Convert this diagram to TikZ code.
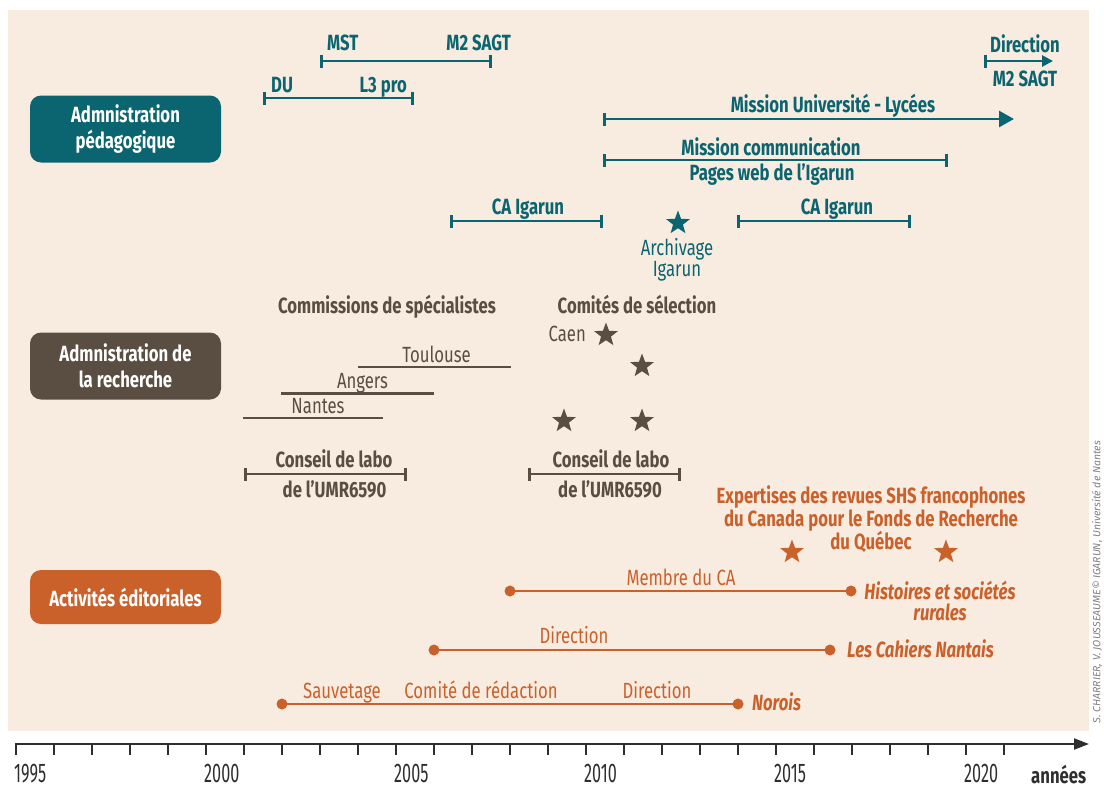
\documentclass[tikz,border=0pt]{standalone}
\usepackage{fontspec}
\setmainfont{Fira Sans}[FakeStretch=0.76]
\newfontfamily\creditfont{Fira Sans}
\newfontfamily\yearfont{Fira Sans}[FakeStretch=0.6]
\usetikzlibrary{arrows.meta}
\usetikzlibrary{shapes.geometric}
\definecolor{beige}{HTML}{F8EBE0}
\definecolor{pedteal}{HTML}{0B6570}
\definecolor{rechbrown}{HTML}{5A4E42}
\definecolor{editorange}{HTML}{CA612B}
\definecolor{axisgray}{HTML}{2E2E2E}

\begin{document}
\begin{tikzpicture}[x=1pt,y=-1pt,
  catbox/.style={rounded corners=11pt,minimum width=191pt,minimum height=67pt,inner sep=0pt,text=white,align=center,font=\bfseries\fontsize{22}{26}\selectfont},
  boldtxt/.style={inner sep=0pt,anchor=base,font=\bfseries\fontsize{22}{24}\selectfont},
  thintxt/.style={inner sep=0pt,anchor=base,font=\fontsize{22}{24}\selectfont},
  titletxt/.style={inner sep=0pt,anchor=base,font=\bfseries\itshape\fontsize{22}{24}\selectfont},
  period/.style={line width=2.8pt,{Bar[width=13pt]}-{Bar[width=13pt]}},
  seat/.style={line width=2.2pt},
  prize/.style={star,star points=5,star point ratio=2.4,minimum size=25pt,inner sep=0pt}]
  \useasboundingbox (0,0) rectangle (1104,790);
  \fill[beige] (8,10) rectangle (1089,731);

  %coordinates
  \coordinate (mst0) at (320,61);
  \coordinate (mst1) at (492,61);
  \coordinate (du0) at (263,98);
  \coordinate (du1) at (414,98);
  \coordinate (dir0) at (984,61);
  \coordinate (dir1) at (1053,61);
  \coordinate (mul0) at (603,119);
  \coordinate (mul1) at (1014,119);
  \coordinate (com0) at (603,160);
  \coordinate (com1) at (948,160);
  \coordinate (caA0) at (450,221);
  \coordinate (caA1) at (603,221);
  \coordinate (caB0) at (737,221);
  \coordinate (caB1) at (911,221);
  \coordinate (tls0) at (358,367);
  \coordinate (tls1) at (511,367);
  \coordinate (ang0) at (281,393.5);
  \coordinate (ang1) at (434,393.5);
  \coordinate (nts0) at (243,418);
  \coordinate (nts1) at (383,418);
  \coordinate (clA0) at (244,474);
  \coordinate (clA1) at (407,474);
  \coordinate (clB0) at (528,474);
  \coordinate (clB1) at (681,474);
  \coordinate (hsr0) at (510,591);
  \coordinate (hsr1) at (851,591);
  \coordinate (can0) at (434,650);
  \coordinate (can1) at (830,650);
  \coordinate (nor0) at (282,704);
  \coordinate (nor1) at (738,704);
  \coordinate (axA) at (15,744);
  \coordinate (axB) at (1089,744);

  %categories
  \node[catbox,fill=pedteal] (ped) at (125.5,129) {Admnistration\\pédagogique};
  \node[catbox,fill=rechbrown] (rech) at (125.5,366) {Admnistration de\\la recherche};
  \node[catbox,fill=editorange,minimum height=54pt] (edit) at (125.5,597) {Activités éditoriales};

  %teaching
  \draw[period,pedteal] (mst0) -- (mst1);
  \draw[period,pedteal] (du0) -- (du1);
  \draw[line width=2.8pt,pedteal,{Bar[width=13pt]}-{Triangle[length=11pt,width=11pt]}] (dir0) -- (dir1);
  \draw[line width=2.8pt,pedteal,{Bar[width=13pt]}-{Triangle[length=15pt,width=16pt]}] (mul0) -- (mul1);
  \draw[period,pedteal] (com0) -- (com1);
  \draw[period,pedteal] (caA0) -- (caA1);
  \draw[period,pedteal] (caB0) -- (caB1);
  \node[boldtxt,anchor=base west,text=pedteal] (mst) at (327,50) {MST};
  \node[boldtxt,anchor=base east,text=pedteal] (msagt) at (511,50) {M2 SAGT};
  \node[boldtxt,anchor=base west,text=pedteal] (du) at (271,92) {DU};
  \node[boldtxt,anchor=base east,text=pedteal] (lpro) at (407,92) {L3 pro};
  \node[boldtxt,text=pedteal] (dirtxt) at (1025,52) {Direction};
  \node[boldtxt,text=pedteal] (dirsagt) at (1025,86) {M2 SAGT};
  \node[boldtxt,text=pedteal] (multxt) at (833,112) {Mission Université - Lycées};
  \node[boldtxt,text=pedteal] (comtxt) at (771,155) {Mission communication};
  \node[boldtxt,text=pedteal] (webtxt) at (772,180) {Pages web de l’Igarun};
  \node[boldtxt,text=pedteal] (caAtxt) at (528,214) {CA Igarun};
  \node[boldtxt,text=pedteal] (caBtxt) at (837,214) {CA Igarun};
  \node[prize,fill=pedteal] (archstar) at (678,223) {};
  \node[thintxt,text=pedteal] (archA) at (677,255) {Archivage};
  \node[thintxt,text=pedteal] (archB) at (677,276) {Igarun};

  %research
  \node[boldtxt,text=rechbrown] (cspe) at (387,313) {Commissions de spécialistes};
  \node[boldtxt,text=rechbrown] (csel) at (637,313) {Comités de sélection};
  \node[thintxt,anchor=base east,text=rechbrown] (caen) at (586,341) {Caen};
  \node[prize,fill=rechbrown] (selA) at (606,335) {};
  \node[prize,fill=rechbrown] (selB) at (642,366) {};
  \node[prize,fill=rechbrown] (selC) at (564,421) {};
  \node[prize,fill=rechbrown] (selD) at (642,421) {};
  \draw[seat,rechbrown] (tls0) -- (tls1);
  \draw[seat,rechbrown] (ang0) -- (ang1);
  \draw[seat,rechbrown] (nts0) -- (nts1);
  \node[thintxt,text=rechbrown] (tls) at (436.5,362) {Toulouse};
  \node[thintxt,text=rechbrown] (ang) at (362.5,388.5) {Angers};
  \node[thintxt,text=rechbrown] (nts) at (318,413) {Nantes};
  \draw[period,rechbrown] (clA0) -- (clA1);
  \draw[period,rechbrown] (clB0) -- (clB1);
  \node[boldtxt,text=rechbrown] (clA) at (334,467.5) {Conseil de labo};
  \node[boldtxt,text=rechbrown] (umrA) at (334.5,497) {de l’UMR6590};
  \node[boldtxt,text=rechbrown] (clB) at (611,467.5) {Conseil de labo};
  \node[boldtxt,text=rechbrown] (umrB) at (610,497) {de l’UMR6590};

  %editorial
  \node[boldtxt,text=editorange] (expA) at (871,503) {Expertises des revues SHS francophones};
  \node[boldtxt,text=editorange] (expB) at (871,526) {du Canada pour le Fonds de Recherche};
  \node[boldtxt,text=editorange] (expC) at (871,549) {du Québec};
  \node[prize,fill=editorange] (expstarA) at (792,552) {};
  \node[prize,fill=editorange] (expstarB) at (946,552) {};
  \draw[seat,line width=2.6pt,editorange] (hsr0) -- (hsr1);
  \draw[seat,line width=2.6pt,editorange] (can0) -- (can1);
  \draw[seat,line width=2.6pt,editorange] (nor0) -- (nor1);
  \foreach \c in {hsr0,hsr1,can0,can1,nor0,nor1}
    \fill[editorange] (\c) circle (5.5pt);
  \node[thintxt,text=editorange] (membre) at (681,585) {Membre du CA};
  \node[titletxt,text=editorange] (hsrA) at (940,599) {Histoires et sociétés};
  \node[titletxt,text=editorange] (hsrB) at (940,620) {rurales};
  \node[thintxt,text=editorange] (candir) at (574,643) {Direction};
  \node[titletxt,anchor=base west,text=editorange] (cahiers) at (847,657) {Les Cahiers Nantais};
  \node[thintxt,text=editorange] (sauv) at (342,698) {Sauvetage};
  \node[thintxt,text=editorange] (redac) at (481,698) {Comité de rédaction};
  \node[thintxt,text=editorange] (nordir) at (657,698) {Direction};
  \node[titletxt,anchor=base west,text=editorange] (norois) at (752,710) {Norois};

  %axis
  \draw[line width=2pt,axisgray,-{Triangle[length=15pt,width=11pt]}] (axA) -- (axB);
  \foreach \k in {0,...,26}
    \draw[line width=1.8pt,axisgray] (16+38*\k,744) -- (16+38*\k,755);
  \foreach \yr in {1995,2000,...,2020}
    \node[inner sep=0pt,anchor=base west,text=axisgray,font=\yearfont\fontsize{27}{27}\selectfont] (y\yr) at ({14+38*(\yr-1995)},782) {\yr};
  \node[boldtxt,anchor=base west,text=axisgray] (annees) at (1031,783) {années};
  \node[rotate=90,inner sep=0pt,text=gray,font=\creditfont\itshape\fontsize{10.5}{10.5}\selectfont] (credit) at (1097,582) {S. CHARRIER, V. JOUSSEAUME© IGARUN, Université de Nantes};
\end{tikzpicture}
\end{document}
